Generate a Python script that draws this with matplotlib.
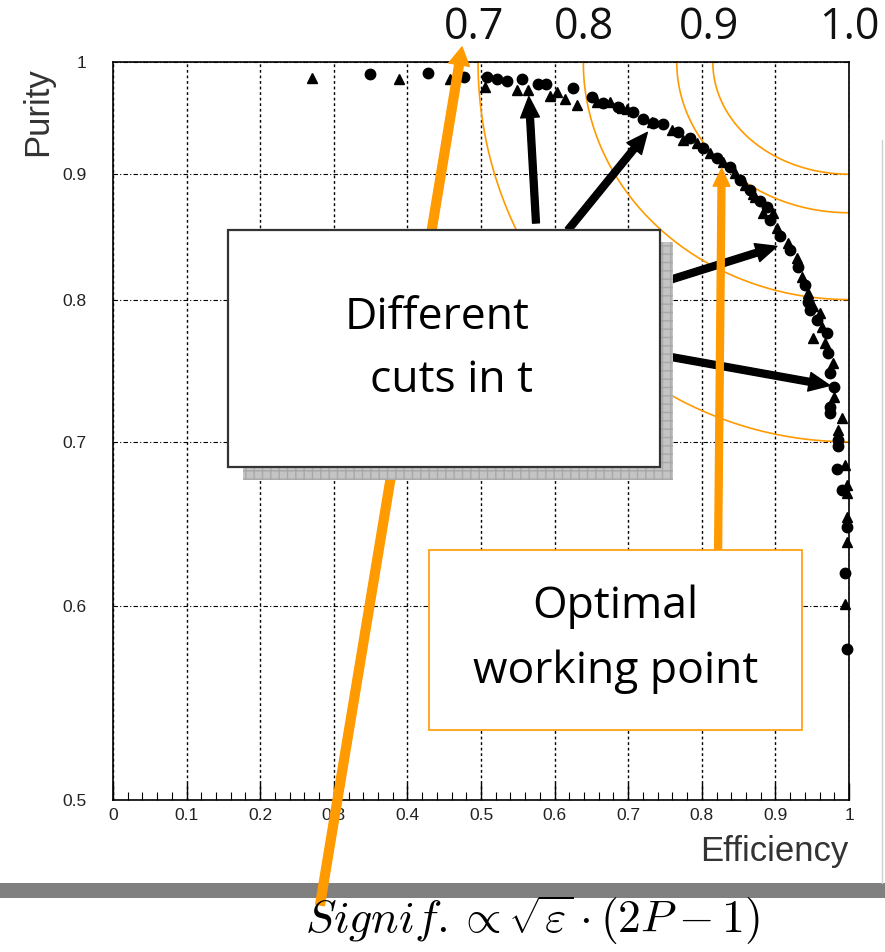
import numpy as np
import matplotlib.pyplot as plt
from matplotlib.patches import Rectangle
from matplotlib.ticker import MultipleLocator, NullLocator, NullFormatter

# purity vs efficiency for the different cuts (two samples)
eff_circ = [0.349, 0.428, 0.477, 0.508, 0.522, 0.535, 0.556, 0.578, 0.588, 0.625,
            0.651, 0.666, 0.686, 0.707, 0.720, 0.734, 0.747, 0.768, 0.784, 0.802,
            0.821, 0.838, 0.852, 0.865, 0.879, 0.888, 0.893, 0.906, 0.920, 0.931,
            0.940, 0.944, 0.947, 0.957, 0.970, 0.971, 0.974, 0.980, 0.974, 0.974,
            0.985, 0.985, 0.984, 0.990, 0.997, 0.995, 0.997]
pur_circ = [0.989, 0.990, 0.986, 0.986, 0.984, 0.982, 0.984, 0.980, 0.980, 0.976,
            0.968, 0.962, 0.959, 0.954, 0.948, 0.944, 0.943, 0.936, 0.931, 0.922,
            0.914, 0.906, 0.895, 0.887, 0.878, 0.873, 0.862, 0.849, 0.838, 0.825,
            0.811, 0.798, 0.792, 0.785, 0.775, 0.761, 0.747, 0.737, 0.723, 0.719,
            0.701, 0.697, 0.682, 0.669, 0.646, 0.619, 0.576]

eff_tri = [0.270, 0.389, 0.458, 0.506, 0.549, 0.564, 0.594, 0.603, 0.614, 0.630,
           0.658, 0.675, 0.692, 0.698, 0.732, 0.759, 0.774, 0.793, 0.811, 0.829,
           0.845, 0.859, 0.872, 0.870, 0.883, 0.897, 0.902, 0.917, 0.929, 0.936,
           0.944, 0.961, 0.951, 0.963, 0.951, 0.967, 0.978, 0.980, 0.990, 0.985,
           0.995, 0.997, 0.997, 0.997, 0.997, 0.995]
pur_tri = [0.985, 0.984, 0.984, 0.977, 0.974, 0.974, 0.969, 0.972, 0.966, 0.960,
           0.963, 0.963, 0.958, 0.957, 0.945, 0.938, 0.929, 0.927, 0.918, 0.910,
           0.901, 0.891, 0.881, 0.883, 0.868, 0.868, 0.856, 0.844, 0.832, 0.817,
           0.805, 0.790, 0.795, 0.780, 0.772, 0.768, 0.754, 0.730, 0.716, 0.708,
           0.685, 0.672, 0.667, 0.652, 0.637, 0.601]

# iso-significance curves: efficiency where they meet P=1, purity where they meet eff=1
iso_top_eff = [0.496, 0.639, 0.766, 0.815]
iso_right_pur = [0.70, 0.80, 0.868, 0.90]
iso_labels = ['0.7', '0.8', '0.9', '1.0']

xticks = np.arange(0, 1.01, 0.1)
xticklabels = ['0', '0.1', '0.2', '0.3', '0.4', '0.5', '0.6', '0.7', '0.8', '0.9', '1']
yticks = [0.5, 0.6, 0.7, 0.8, 0.9, 1.0]
yticklabels = ['0.5', '0.6', '0.7', '0.8', '0.9', '1']

orange = '#ff9a00'
W, H = 885, 952

plt.rcParams['mathtext.fontset'] = 'cm'

fig = plt.figure(figsize=(W / 100, H / 100), dpi=100)
ax = fig.add_axes([113 / W, 1 - 800 / H, 736 / W, 738 / H])

ax.set_yscale('log')
ax.set_xlim(0, 1)
ax.set_ylim(0.5, 1)
ax.set_xticks(xticks)
ax.set_xticklabels(xticklabels)
ax.xaxis.set_minor_locator(MultipleLocator(0.02))
ax.set_yticks(yticks)
ax.set_yticklabels(yticklabels)
ax.yaxis.set_minor_locator(NullLocator())
ax.yaxis.set_minor_formatter(NullFormatter())
ax.tick_params(axis='x', which='major', direction='in', length=12, width=1,
               top=False, pad=6, labelsize=12.5)
ax.tick_params(axis='x', which='minor', direction='in', length=6, width=0.8, top=False)
ax.tick_params(axis='y', which='both', length=0, pad=19, labelsize=12.5)
for lab in ax.get_xticklabels() + ax.get_yticklabels():
    lab.set_fontfamily('Liberation Sans')
    lab.set_color('#222222')
for sp in ax.spines.values():
    sp.set_linewidth(1.2)

ax.grid(axis='x', which='major', color='k', ls=(0, (2, 2)), lw=1.0)
ax.grid(axis='y', which='major', color='k', ls=(0, (4, 2, 1, 2)), lw=0.8)
ax.set_axisbelow(True)

# quarter-ellipse iso-significance lines, drawn in axes fraction
t = np.linspace(0, np.pi / 2, 100)
for e0, p0 in zip(iso_top_eff, iso_right_pur):
    y0 = 1 + np.log(p0) / np.log(2)
    xs = 1 - (1 - e0) * np.cos(t)
    ys = 1 - (1 - y0) * np.sin(t)
    ax.plot(xs, ys, color=orange, lw=1.2, transform=ax.transAxes, clip_on=False, zorder=2)

ax.plot(eff_circ, pur_circ, 'o', color='k', ms=7.5, mec='k', zorder=3, clip_on=False)
ax.plot(eff_tri, pur_tri, '^', color='k', ms=7, mec='k', zorder=3, clip_on=False)

# significance labels above the frame, at eff = label**2
for lab in iso_labels:
    ax.text(float(lab) ** 2, 1.046, lab, transform=ax.get_xaxis_transform(),
            ha='center', va='center', fontsize=31, family='Open Sans', color='#111111')

# overlay in pixel coordinates for the slide decorations
ov = fig.add_axes([0, 0, 1, 1])
ov.set_xlim(0, W)
ov.set_ylim(H, 0)
ov.axis('off')

ov.text(38, 112, 'Purity', rotation=90, ha='center', va='center', fontsize=25,
        family='Liberation Sans', color='#333333')
ov.text(848, 852, 'Efficiency', ha='right', va='center', fontsize=25,
        family='Liberation Sans', color='#333333')

ov.add_patch(Rectangle((0, 883), W, 15, facecolor='#808080', edgecolor='none', zorder=1))
ov.plot([882, 882], [140, 883], color='#d0d0d0', lw=1, zorder=1)

ov.annotate('', xy=(462, 47), xytext=(320, 905),
            arrowprops=dict(arrowstyle='simple,head_length=0.86,head_width=1.0,tail_width=0.42',
                            color=orange, mutation_scale=15, shrinkA=0, shrinkB=0),
            zorder=2)

# "Different cuts in t" box with its hatched shadow
ov.add_patch(Rectangle((243, 242), 430, 238, facecolor='#c4c4c4', edgecolor='#a8a8a8',
                       hatch='++', lw=0, zorder=3))
ov.add_patch(Rectangle((228, 230), 432, 237, facecolor='white', edgecolor='#333333',
                       lw=1.6, zorder=4))
ov.text(437, 318, 'Different', ha='center', va='center', fontsize=32,
        family='Open Sans', zorder=5)
ov.text(452, 381, 'cuts in t', ha='center', va='center', fontsize=32,
        family='Open Sans', zorder=5)

# black arrows from the box to single cut points
black_tips = [(0.565, 0.968), (0.726, 0.936), (0.902, 0.841), (0.974, 0.738)]
black_tails = [(536, 223), (568, 230), (660, 283), (660, 355)]
for tip, tail in zip(black_tips, black_tails):
    ax.annotate('', xy=tip, xytext=tail, textcoords=ov.transData,
                arrowprops=dict(arrowstyle='simple,head_length=1.0,head_width=0.9,tail_width=0.33',
                                color='k', mutation_scale=15, shrinkA=0, shrinkB=0),
                zorder=4, annotation_clip=False)

# optimal working point arrow and box
ax.annotate('', xy=(0.827, 0.905), xytext=(718, 560), textcoords=ov.transData,
            arrowprops=dict(arrowstyle='simple,head_length=0.86,head_width=0.8,tail_width=0.33',
                            color=orange, mutation_scale=15, shrinkA=0, shrinkB=0),
            zorder=5, annotation_clip=False)
ov.add_patch(Rectangle((429, 550), 373, 180, facecolor='white', edgecolor=orange,
                       lw=1.2, zorder=4))
ov.text(615, 607, 'Optimal', ha='center', va='center', fontsize=32,
        family='Open Sans', zorder=5)
ov.text(616, 672, 'working point', ha='center', va='center', fontsize=32,
        family='Open Sans', zorder=5)

ov.text(533, 933, r'$Signif.\propto\sqrt{\varepsilon}\cdot(2P-1)$', ha='center',
        va='baseline', fontsize=33, zorder=5)

fig.savefig('out.png', dpi=100)
